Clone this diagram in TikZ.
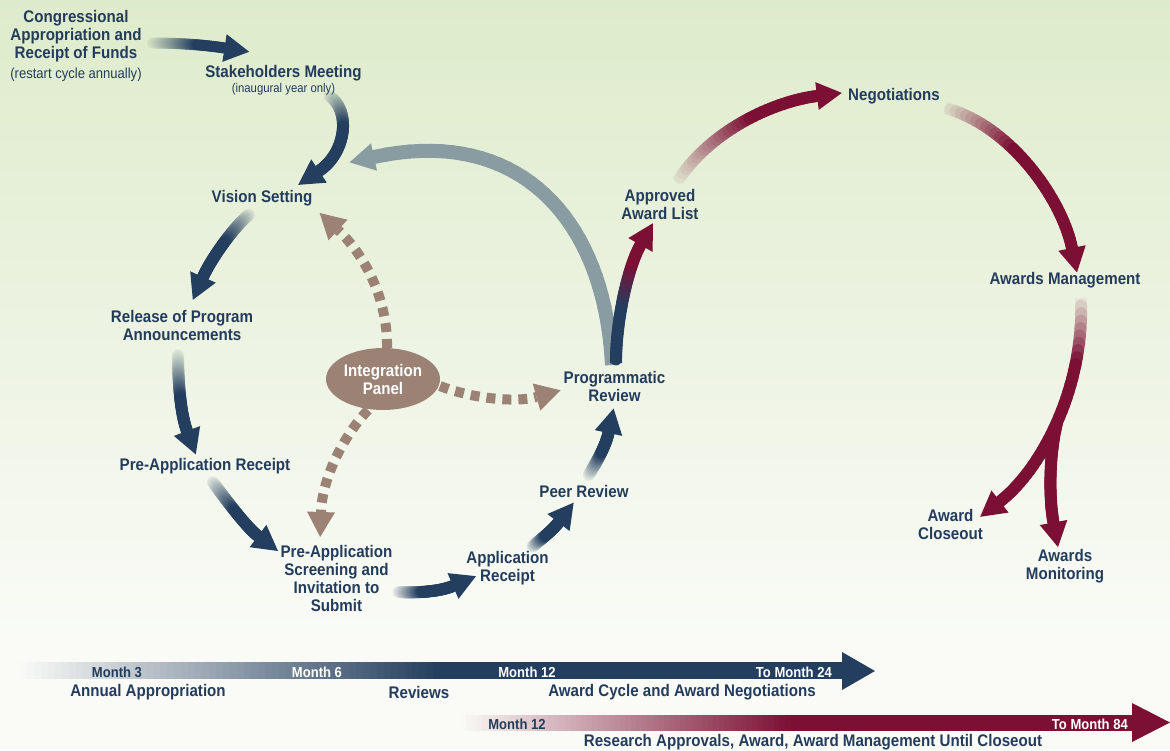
\documentclass[tikz,border=0pt]{standalone}
\usepackage{fontspec}
\setmainfont{Liberation Sans}[FakeStretch=0.9]
\usetikzlibrary{calc,shapes.geometric}
\definecolor{navy}{HTML}{243E5F}
\definecolor{txt}{HTML}{233C5C}
\definecolor{maroon}{HTML}{7B1034}
\definecolor{grayblue}{HTML}{889CA1}
\definecolor{brownc}{HTML}{9B8274}
\definecolor{bgA}{HTML}{DEEBCB}
\definecolor{bgB}{HTML}{EBF3E0}
\definecolor{bgC}{HTML}{FAFBF7}
\colorlet{bgAA}{bgA!75!bgB}
\colorlet{bgAD}{bgA!35!bgB}
\colorlet{bgAK}{bgA!45!bgB}
\colorlet{bgAL}{bgA!65!bgB}
\colorlet{bgBF}{bgB!50!bgC}
\colorlet{bgBH}{bgB!30!bgC}
\newcommand\gaN{36}
% #1 P0 #2 P1 #3 P2 #4 P3 (head base) #5 colour A #6 colour B #7 a #8 b #9 width
\newcommand\garrow[9]{%
  \coordinate (ga0) at #1;
  \coordinate (ga1) at #2;
  \coordinate (ga2) at #3;
  \coordinate (ga3) at #4;
  \foreach \k in {0,...,\gaN}{%
    \pgfmathsetmacro\gt{\k/\gaN}%
    \coordinate (gp\k) at ($ {(1-\gt)^3}*(ga0) + {3*(1-\gt)^2*\gt}*(ga1) + {3*(1-\gt)*\gt^2}*(ga2) + {\gt^3}*(ga3) $);
  }
  \foreach \k in {1,...,\gaN}{%
    \pgfmathtruncatemacro\km{\k-1}%
    \pgfmathsetmacro\pc{max(0,min(100,100*((\k-0.5)/\gaN-#7)/(#8-#7)))}%
    \ifnum\k=1 \def\gacap{butt}\else\def\gacap{round}\fi
    \draw[line width=#9, line cap=\gacap, color=#6!\pc!#5] (gp\km) -- (gp\k);
  }
  \fill[#6] ($(ga3)!14pt!90:(ga2)$) -- ($(ga3)!-25pt!(ga2)$) -- ($(ga3)!14pt!-90:(ga2)$) -- cycle;
}
\newcommand\headat[3]{%
  \fill[#3] ($#1!14pt!90:#2$) -- ($#1!-25pt!#2$) -- ($#1!14pt!-90:#2$) -- cycle;
}
% gradient bar: #1 x0 #2 x1 #3 ytop #4 ybottom #5 colour
\newcommand\gradbar[5]{%
  \pgfmathsetmacro\gbw{(#2-#1)/60}%
  \foreach \i in {0,...,59}{%
    \pgfmathsetmacro\xa{#1+\gbw*\i}%
    \pgfmathsetmacro\xb{#1+\gbw*(\i+1)+0.6}%
    \pgfmathsetmacro\pc{100*(\i+0.5)/60}%
    \fill[#5!\pc!bgC] (\xa,#3) rectangle (\xb,#4);
  }
}
\tikzset{
  lbl/.style={text=txt, font=\bfseries\fontsize{16.8}{18}\selectfont, align=center, inner sep=0pt},
  note/.style={text=txt, font=\fontsize{#1}{16}\selectfont, inner sep=0pt},
  barlbl/.style={font=\bfseries\fontsize{14.5}{16}\selectfont, inner sep=0pt},
  dashb/.style={draw=brownc, line width=10pt, dash pattern=on 9pt off 7pt},
}
\begin{document}
\begin{tikzpicture}[x=1pt,y=-1pt]
\useasboundingbox (0,0) rectangle (1170,750);
% background
\shade[top color=bgA, middle color=bgB, bottom color=bgC] (0,0) rectangle (1170,640);
\fill[bgC] (0,639.5) rectangle (1170,750);

% arrow end points
\coordinate (aS) at (150,43);   \coordinate (aE) at (224.5,48);
\coordinate (bS) at (328,95);   \coordinate (bE) at (319,171);
\coordinate (cS) at (612,365);  \coordinate (cE) at (374,157);
\coordinate (dS) at (250,214);  \coordinate (dE) at (203,277);
\coordinate (eS) at (178,353);  \coordinate (eE) at (187,431);
\coordinate (fS) at (212,481);  \coordinate (fE) at (258,536);
\coordinate (gS) at (397,592);  \coordinate (gE) at (453,586);
\coordinate (hS) at (532,547);  \coordinate (hE) at (558.5,522.5);
\coordinate (iS) at (588,476);  \coordinate (iE) at (608.5,433);
\coordinate (jS) at (616,363);  \coordinate (jE) at (640.5,245);
\coordinate (kS) at (677,182);  \coordinate (kE) at (817,96);
\coordinate (lS) at (945,108);  \coordinate (lE) at (1072,248);
\coordinate (mS) at (1081,298); \coordinate (mE) at (1000,501.5);
\coordinate (mSplit) at (1057,423); \coordinate (mE2) at (1053.5,522.5);

% main cycle arrows
\garrow{(aS)}{(180,43)}{(205,45)}{(aE)}{bgA}{navy}{0}{0.6}{11pt}
\garrow{(bS)}{(352,110)}{(346,153)}{(bE)}{bgAA}{navy}{0}{0.45}{12pt}
\garrow{(cS)}{(605,220)}{(520,125)}{(cE)}{grayblue}{grayblue}{0}{0.01}{14pt}
\garrow{(dS)}{(235,225)}{(211,259)}{(dE)}{bgAD}{navy}{0}{0.5}{12pt}
\garrow{(eS)}{(178,385)}{(181,415)}{(eE)}{bgB}{navy}{0}{0.5}{12pt}
\garrow{(fS)}{(224,497)}{(246,527)}{(fE)}{bgBF}{navy}{0}{0.5}{12pt}
\garrow{(gS)}{(415,593)}{(439,592)}{(gE)}{bgC}{navy}{0}{0.45}{12pt}
\garrow{(hS)}{(540,540)}{(552,531)}{(hE)}{bgBH}{navy}{0}{0.5}{12pt}
\garrow{(iS)}{(597,462)}{(606,445)}{(iE)}{bgBF}{navy}{0}{0.55}{12pt}
\garrow{(jS)}{(616,320)}{(628,267)}{(jE)}{navy}{maroon}{0.45}{0.8}{12pt}
\garrow{(kS)}{(712,128)}{(777,101)}{(kE)}{bgAK}{maroon}{0}{0.55}{12pt}
\garrow{(lS)}{(1010,125)}{(1062,199)}{(lE)}{bgAL}{maroon}{0}{0.4}{12pt}
\garrow{(mSplit)}{(1049,455)}{(1049,498)}{(mE2)}{maroon}{maroon}{0}{0.01}{12pt}
\garrow{(mS)}{(1085,390)}{(1039.5,471)}{(mE)}{bgB}{maroon}{0}{0.25}{12pt}

% integration panel dashed arrows
\coordinate (n1S) at (387,348); \coordinate (n1b) at (365,255); \coordinate (n1E) at (338,230);
\coordinate (n2S) at (440,386); \coordinate (n2b) at (515,403); \coordinate (n2E) at (536.5,397);
\coordinate (n3S) at (368,410); \coordinate (n3b) at (322,482); \coordinate (n3E) at (321,512);
\draw[dashb] (n1S) .. controls (388,300) and (n1b) .. (n1E);
\headat{(n1E)}{(n1b)}{brownc}
\draw[dashb] (n2S) .. controls (470,398) and (n2b) .. (n2E);
\headat{(n2E)}{(n2b)}{brownc}
\draw[dashb] (n3S) .. controls (340,440) and (n3b) .. (n3E);
\headat{(n3E)}{(n3b)}{brownc}
\node[ellipse, fill=brownc, minimum width=114pt, minimum height=62pt, inner sep=0pt,
      text=white, font=\bfseries\fontsize{16.8}{18}\selectfont, align=center] (integ) at (383,379) {Integration\\Panel};

% labels
\node[lbl] (congress) at (76,36) {Congressional\\Appropriation and\\Receipt of Funds};
\node[note=14.5] (congressnote) at (76,75) {(restart cycle annually)};
\node[lbl] (stake) at (283.5,73) {Stakeholders Meeting};
\node[note=12.6] (stakenote) at (283.5,89) {(inaugural year only)};
\node[lbl] (vision) at (262,198) {Vision Setting};
\node[lbl] (release) at (182,325) {Release of Program\\Announcements};
\node[lbl] (preapp) at (205,466) {Pre-Application Receipt};
\node[lbl] (screen) at (336.5,578) {Pre-Application\\Screening and\\Invitation to\\Submit};
\node[lbl] (appr) at (507.5,568) {Application\\Receipt};
\node[lbl] (peer) at (584,491) {Peer Review};
\node[lbl] (prog) at (614.5,386) {Programmatic\\Review};
\node[lbl] (approved) at (660,204) {Approved\\Award List};
\node[lbl] (nego) at (894,96) {Negotiations};
\node[lbl] (mgmt) at (1065,280) {Awards Management};
\node[lbl] (closeout) at (950.5,524) {Award\\Closeout};
\node[lbl] (monitor) at (1065,566) {Awards\\Monitoring};

% timeline bars
\gradbar{20}{440}{662}{679}{navy}
\fill[navy] (440,662) rectangle (842.5,679);
\fill[navy] (842,652) -- (875,671) -- (842,690) -- cycle;
\gradbar{460}{790}{715}{731}{maroon}
\fill[maroon] (790,715) rectangle (1132.5,731);
\fill[maroon] (1132,703) -- (1170,722.5) -- (1132,742) -- cycle;

\node[barlbl, text=txt] (m3) at (117,672) {Month 3};
\node[barlbl, text=white] (m6) at (317,672) {Month 6};
\node[barlbl, text=white] (m12) at (527,672) {Month 12};
\node[barlbl, text=white, anchor=east] (m24) at (832,672) {To Month 24};
\node[lbl] (annual) at (148,692) {Annual Appropriation};
\node[lbl] (reviews) at (419,692) {Reviews};
\node[lbl] (cycle) at (682,692) {Award Cycle and Award Negotiations};
\node[barlbl, text=txt] (m12b) at (517,724) {Month 12};
\node[barlbl, text=white, anchor=east] (m84) at (1128,724) {To Month 84};
\node[lbl] (research) at (813,742) {Research Approvals, Award, Award Management Until Closeout};
\end{tikzpicture}
\end{document}
